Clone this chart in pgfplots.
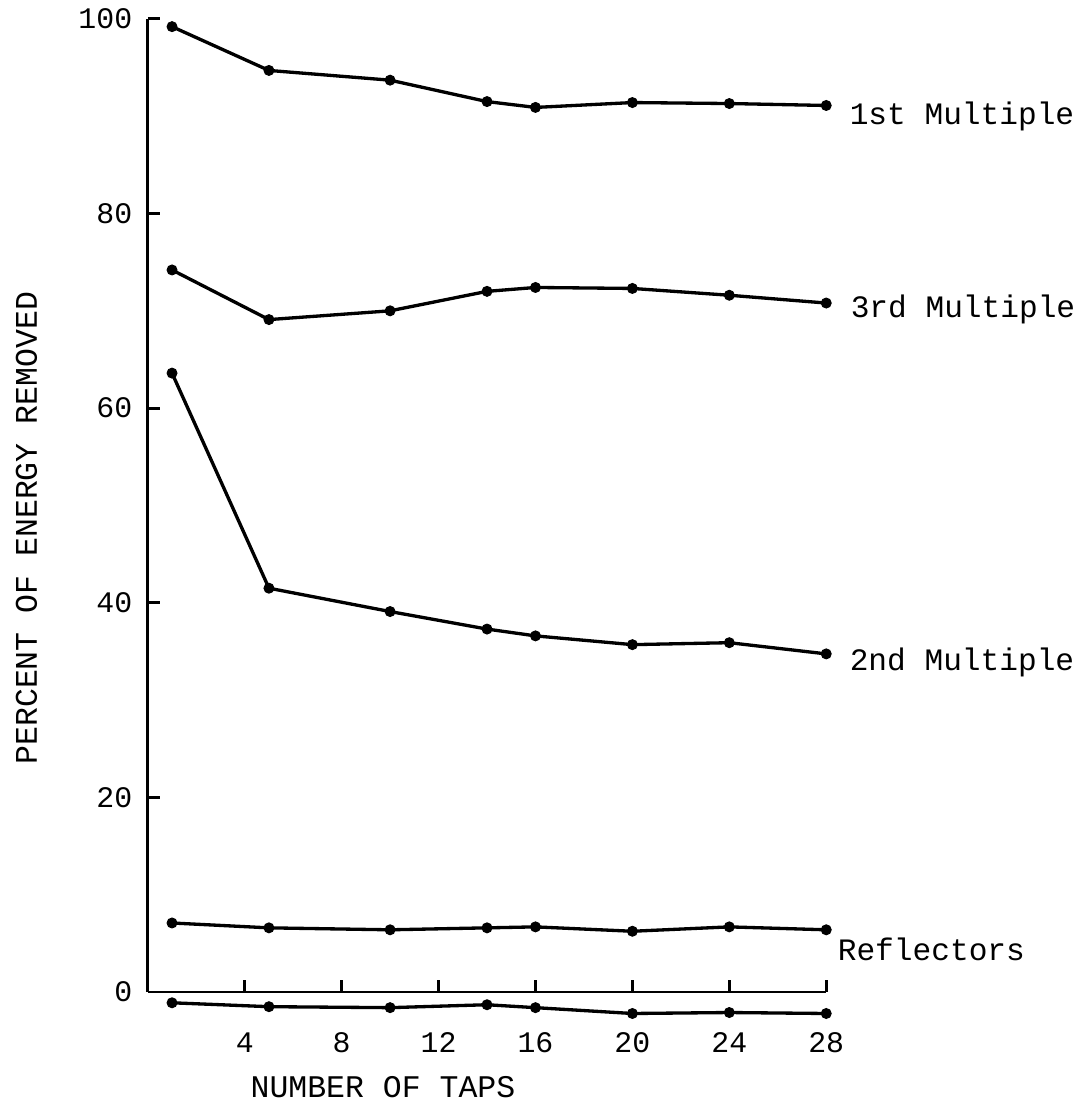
\documentclass[border=0pt]{standalone}
\usepackage{fontspec}
\setmainfont{Liberation Mono}
\usepackage{pgfplots}
\pgfplotsset{compat=1.18}

\tikzset{curvelabel/.style={font=\fontsize{9.4}{11}\selectfont, anchor=base west, inner sep=0pt}}
\pgfplotsset{curve/.style={black, solid, line width=1pt, mark=*, mark size=1.5pt,
    mark options={solid, line width=0.3pt, fill=black}}}

\begin{document}
\begin{tikzpicture}
\begin{axis}[
    scale only axis,
    width=204.6pt, height=293.5pt,
    xmin=0, xmax=28, ymin=0, ymax=100,
    axis x line=bottom, axis y line=left,
    axis line style={-, line width=0.85pt},
    clip=false,
    xtick={4,8,...,28},
    ytick={0,20,...,100},
    tick align=inside,
    major tick length=3.6pt,
    tick style={line width=0.85pt, black},
    /pgf/number format/assume math mode=true,
    ticklabel style={font=\fontsize{9}{10}\selectfont, inner sep=0pt},
    xticklabel style={anchor=center, yshift=-15.2pt},
    yticklabel style={anchor=east, xshift=-4.5pt},
    label style={font=\fontsize{9.5}{11}\selectfont},
    xlabel={NUMBER OF TAPS},
    ylabel={PERCENT OF ENERGY REMOVED},
    xlabel style={at={(0.3466,-0.0978)}, anchor=center},
    ylabel style={at={(-0.1787,0.4766)}, anchor=center},
]
% 1st multiple
\addplot[curve] coordinates {(1,99.2) (5,94.7) (10,93.7) (14,91.5) (16,90.9) (20,91.4) (24,91.3) (28,91.1)}
    node[pos=1, curvelabel, xshift=6.6pt, yshift=-5.7pt] {1st Multiple};
% 3rd multiple
\addplot[curve] coordinates {(1,74.2) (5,69.1) (10,70.0) (14,72.0) (16,72.4) (20,72.3) (24,71.6) (28,70.8)}
    node[pos=1, curvelabel, xshift=6.9pt, yshift=-4.5pt] {3rd Multiple};
% 2nd multiple
\addplot[curve] coordinates {(1,63.6) (5,41.5) (10,39.1) (14,37.3) (16,36.6) (20,35.7) (24,35.9) (28,34.75)}
    node[pos=1, curvelabel, xshift=6.6pt, yshift=-5pt] {2nd Multiple};
% reflectors
\addplot[curve] coordinates {(1,7.1) (5,6.6) (10,6.4) (14,6.6) (16,6.7) (20,6.25) (24,6.7) (28,6.4)}
    node[pos=1, curvelabel, xshift=3pt, yshift=-9.2pt] {Reflectors};
% curve below the zero line
\addplot[curve] coordinates {(1,-1.1) (5,-1.5) (10,-1.6) (14,-1.3) (16,-1.6) (20,-2.2) (24,-2.1) (28,-2.2)};
% page frame, same extent as the scan
\path (-6.1,-11.42) rectangle (38.44,101.94);
\end{axis}
\end{tikzpicture}
\end{document}
